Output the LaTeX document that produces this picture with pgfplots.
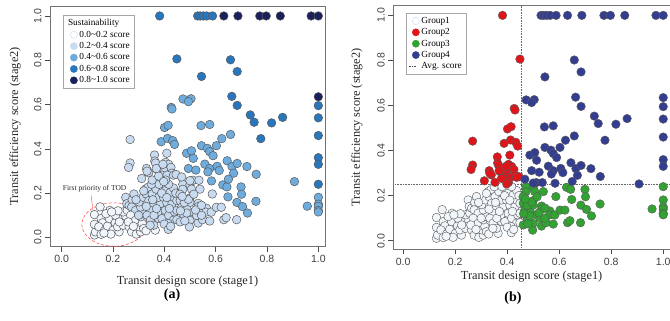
\documentclass[border=0pt]{standalone}
\usepackage{fontspec}
\setmainfont{Liberation Serif}
\newfontfamily\sansf{Liberation Sans}
\usepackage{pgfplots}
\usepackage{pgfplotstable}
\pgfplotsset{compat=1.18}

\definecolor{sA}{RGB}{240,246,252}
\definecolor{sB}{RGB}{200,219,240}
\definecolor{sC}{RGB}{110,172,222}
\definecolor{sD}{RGB}{40,118,188}
\definecolor{sE}{RGB}{25,32,92}
\definecolor{gA}{RGB}{240,246,250}
\definecolor{gB}{RGB}{225,20,25}
\definecolor{gC}{RGB}{50,162,50}
\definecolor{gD}{RGB}{52,62,145}

% Group 1
\pgfplotstableread{
x y
0.128 0.011
0.132 0.025
0.128 0.059
0.150 0.138
0.128 0.103
0.154 0.085
0.160 0.066
0.145 0.048
0.167 0.030
0.154 0.014
0.179 0.051
0.186 0.085
0.188 0.122
0.173 0.107
0.209 0.066
0.201 0.033
0.192 0.015
0.224 0.025
0.218 0.048
0.240 0.055
0.235 0.085
0.250 0.096
0.240 0.115
0.256 0.122
0.250 0.181
0.254 0.152
0.263 0.144
0.275 0.170
0.282 0.196
0.273 0.137
0.288 0.122
0.269 0.100
0.288 0.077
0.263 0.048
0.273 0.025
0.291 0.015
0.308 0.025
0.302 0.048
0.314 0.063
0.308 0.093
0.321 0.107
0.308 0.137
0.302 0.160
0.317 0.181
0.330 0.196
0.327 0.218
0.337 0.226
0.353 0.196
0.340 0.166
0.359 0.144
0.346 0.122
0.333 0.100
0.346 0.078
0.365 0.033
0.359 0.055
0.378 0.085
0.376 0.115
0.385 0.152
0.378 0.181
0.368 0.218
0.391 0.233
0.404 0.211
0.397 0.181
0.410 0.157
0.404 0.122
0.391 0.085
0.417 0.100
0.430 0.152
0.436 0.181
0.423 0.203
0.436 0.223
0.417 0.240
0.440 0.115
0.436 0.078
0.415 0.063
0.449 0.080
0.449 0.122
0.449 0.166
0.210 0.100
0.225 0.070
0.260 0.070
0.280 0.050
0.320 0.040
0.330 0.140
0.360 0.100
0.350 0.240
0.380 0.240
0.400 0.060
0.420 0.130
0.390 0.200
0.355 0.170
0.320 0.210
0.290 0.170
0.300 0.100
0.220 0.120
0.195 0.115
0.165 0.020
0.329 0.030
0.416 0.036
0.445 0.200
0.410 0.180
0.345 0.055
0.370 0.130
0.425 0.050
}\gone

% Group 2
\pgfplotstableread{
x y
0.382 1.000
0.449 0.806
0.427 0.587
0.430 0.580
0.401 0.496
0.415 0.506
0.267 0.442
0.388 0.432
0.413 0.447
0.433 0.437
0.440 0.420
0.410 0.380
0.362 0.372
0.363 0.345
0.405 0.339
0.417 0.330
0.426 0.316
0.397 0.303
0.372 0.307
0.331 0.311
0.339 0.292
0.430 0.290
0.312 0.266
0.353 0.259
0.391 0.281
0.411 0.281
0.405 0.259
0.436 0.281
0.267 0.336
0.261 0.316
0.366 0.336
0.378 0.277
0.333 0.299
0.398 0.252
0.446 0.284
0.369 0.311
0.395 0.330
}\gtwo

% Group 3
\pgfplotstableread{
x y
0.472 0.240
0.472 0.217
0.500 0.237
0.506 0.218
0.539 0.218
0.628 0.237
0.644 0.228
0.699 0.228
0.701 0.195
0.648 0.183
0.587 0.196
0.462 0.166
0.500 0.178
0.500 0.158
0.532 0.154
0.468 0.136
0.490 0.125
0.532 0.139
0.564 0.132
0.562 0.114
0.583 0.114
0.603 0.136
0.622 0.136
0.683 0.158
0.705 0.139
0.757 0.163
0.724 0.110
0.477 0.099
0.500 0.077
0.498 0.047
0.532 0.065
0.549 0.080
0.577 0.074
0.632 0.080
0.641 0.089
0.682 0.080
0.462 0.070
0.513 0.114
0.487 0.110
0.526 0.099
0.545 0.100
0.478 0.157
0.494 0.172
0.461 0.195
0.470 0.185
0.515 0.195
0.957 0.141
1.000 0.240
1.000 0.181
1.000 0.150
1.000 0.140
1.000 0.122
1.000 0.115
0.522 0.124
0.545 0.145
0.463 0.120
0.480 0.075
}\gthree

% Group 4
\pgfplotstableread{
x y
0.530 1.000
0.540 1.000
0.552 1.000
0.565 1.000
0.588 1.000
0.632 1.000
0.687 1.000
0.772 1.000
0.797 1.000
0.852 1.000
0.972 1.000
1.000 1.000
1.000 0.635
1.000 0.595
1.000 0.540
1.000 0.460
1.000 0.360
1.000 0.330
0.658 0.802
0.684 0.749
0.545 0.727
0.663 0.637
0.684 0.596
0.473 0.625
0.504 0.626
0.494 0.613
0.543 0.505
0.577 0.510
0.735 0.553
0.750 0.520
0.818 0.517
0.861 0.542
0.776 0.446
0.658 0.465
0.624 0.446
0.603 0.414
0.545 0.414
0.568 0.402
0.577 0.387
0.590 0.369
0.487 0.380
0.506 0.391
0.513 0.357
0.558 0.331
0.494 0.311
0.523 0.304
0.577 0.311
0.570 0.296
0.606 0.321
0.614 0.302
0.645 0.346
0.664 0.320
0.684 0.334
0.670 0.290
0.722 0.320
0.758 0.285
0.650 0.263
0.584 0.255
0.512 0.258
0.535 0.258
0.500 0.256
0.468 0.273
0.907 0.252
}\gfour

\pgfplotsset{
  rplot/.style={
    scale only axis,
    axis line style={black!55, line width=0.6pt},
    tick align=outside,
    xtick pos=bottom, ytick pos=left,
    major tick length=5pt,
    tick style={black!70, line width=0.6pt},
    xtick={0,0.2,0.4,0.6,0.8,1},
    ytick={0,0.2,0.4,0.6,0.8,1},
    tick label style={font=\sansf\fontsize{10.5}{12}\selectfont, text=black!75},
    /pgf/number format/fixed,
    /pgf/number format/fixed zerofill,
    /pgf/number format/precision=1,
    /pgf/number format/assume math mode=true,
    yticklabel style={rotate=90, anchor=south},
    label style={font=\fontsize{12.3}{14}\selectfont, text=black!85},
    xlabel={Transit design score (stage1)},
    ylabel={Transit efficiency score (stage2)},
  },
  pts/.style={only marks, mark=*, mark size=4.3pt, mark options={line width=0.5pt}},
  spts/.style={pts, scatter, forget plot, scatter/use mapped color={draw=black!65, fill=mapped color},
    point meta={(\thisrow{x}+\thisrow{y})/2}},
  dotleg/.style={legend image code/.code={\draw[black!70, densely dotted, line width=0.6pt] (0.05cm,0cm) -- (0.3cm,0cm);}},
}

\begin{document}
\begin{tikzpicture}
\useasboundingbox (0,0) rectangle (670pt,321pt);
% ---------------- panel (a)
\begin{axis}[rplot,
  at={(50pt,74.3pt)}, anchor=south west,
  width=275pt, height=240.7pt,
  xmin=-0.045, xmax=1.026, ymin=-0.042, ymax=1.045,
  xlabel style={at={(axis description cs:0.5,0)}, anchor=center, yshift=-35pt},
  ylabel style={at={(axis description cs:-0.127,0.5)}, anchor=center},
  colormap={sust}{rgb255=(240,246,252) rgb255=(200,219,240) rgb255=(110,172,222) rgb255=(40,118,188) rgb255=(25,32,92)},
  colormap access=piecewise constant,
  point meta min=0, point meta max=1,
  legend style={at={(0.047,0.963)}, anchor=north west, draw=black!35,
    font=\fontsize{9.3}{10.5}\selectfont, legend cell align=left, row sep=-0.3pt, inner sep=2.2pt},
]
\addlegendimage{empty legend}\addlegendentry{\hspace*{-4mm}Sustainability}
\addlegendimage{only marks, mark=*, mark size=3.6pt, mark options={fill=white, draw=sB}}\addlegendentry{0.0\textasciitilde0.2 score}
\addlegendimage{only marks, mark=*, mark size=3.6pt, mark options={fill=sB, draw=sB}}\addlegendentry{0.2\textasciitilde0.4 score}
\addlegendimage{only marks, mark=*, mark size=3.6pt, mark options={fill=sC, draw=sC}}\addlegendentry{0.4\textasciitilde0.6 score}
\addlegendimage{only marks, mark=*, mark size=3.6pt, mark options={fill=sD, draw=sD}}\addlegendentry{0.6\textasciitilde0.8 score}
\addlegendimage{only marks, mark=*, mark size=3.6pt, mark options={fill=sE, draw=sE}}\addlegendentry{0.8\textasciitilde1.0 score}
\addplot[spts] table[x=x, y=y] {\gone};
\addplot[spts] table[x=x, y=y] {\gtwo};
\addplot[spts] table[x=x, y=y] {\gthree};
\addplot[spts] table[x=x, y=y] {\gfour};
\draw[red!80, densely dashed, line width=0.5pt] (axis cs:0.204,0.058) ellipse [x radius=0.125, y radius=0.098];
\draw[red!70, line width=0.4pt] (axis cs:0.115,0.19) -- (axis cs:0.123,0.118);
\node[font=\fontsize{7.5}{9}\selectfont, text=black!85] at (axis cs:0.129,0.221) {First priority of TOD};
\end{axis}
\node[font=\bfseries\fontsize{14}{16}\selectfont] at (172pt,26pt) {(a)};
% ---------------- panel (b)
\begin{axis}[rplot,
  at={(393.3pt,71.7pt)}, anchor=south west,
  width=276.7pt, height=243.6pt,
  xmin=-0.038, xmax=1.026, ymin=-0.038, ymax=1.043,
  xlabel style={at={(axis description cs:0.5,0)}, anchor=center, yshift=-27pt},
  ylabel style={at={(axis description cs:-0.132,0.5)}, anchor=center},
  legend style={at={(0.046,0.971)}, anchor=north west, draw=black!35,
    font=\fontsize{9.3}{10.5}\selectfont, legend cell align=left, row sep=-0.3pt, inner sep=2.2pt},
]
\addlegendimage{only marks, mark=*, mark size=3.6pt, mark options={fill=white, draw=sB}}\addlegendentry{Group1}
\addlegendimage{only marks, mark=*, mark size=3.6pt, mark options={fill=gB, draw=gB}}\addlegendentry{Group2}
\addlegendimage{only marks, mark=*, mark size=3.6pt, mark options={fill=gC, draw=gC}}\addlegendentry{Group3}
\addlegendimage{only marks, mark=*, mark size=3.6pt, mark options={fill=gD, draw=gD}}\addlegendentry{Group4}
\addlegendimage{dotleg}\addlegendentry{Avg. score}
\addplot[pts, forget plot, mark options={fill=gA, draw=black!65}] table[x=x,y=y] {\gone};
\addplot[pts, forget plot, mark options={fill=gB, draw=black!65}] table[x=x,y=y] {\gtwo};
\addplot[pts, forget plot, mark options={fill=gC, draw=black!65}] table[x=x,y=y] {\gthree};
\addplot[pts, forget plot, mark options={fill=gD, draw=black!65}] table[x=x,y=y] {\gfour};
\addplot[black!60, densely dotted, line width=0.6pt, forget plot] coordinates {(0.453,-0.038) (0.453,1.043)};
\addplot[black!60, densely dotted, line width=0.6pt, forget plot] coordinates {(-0.038,0.252) (1.026,0.252)};
\end{axis}
\node[font=\bfseries\fontsize{14}{16}\selectfont] at (513pt,23pt) {(b)};
\end{tikzpicture}
\end{document}
